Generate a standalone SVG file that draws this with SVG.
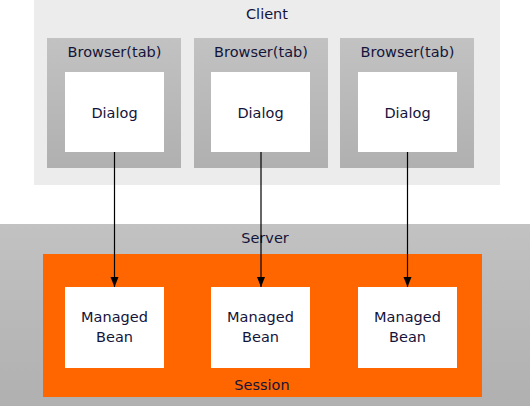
<svg xmlns="http://www.w3.org/2000/svg" width="530" height="406" viewBox="0 0 530 406">
<defs>
<linearGradient id="g" x1="0" y1="0" x2="0" y2="1"><stop offset="0" stop-color="#c2c2c2"/><stop offset="1" stop-color="#b0b0b0"/></linearGradient>
<marker id="arr" markerWidth="10" markerHeight="12" refX="10" refY="4" orient="auto" markerUnits="userSpaceOnUse"><path d="M0,0 L10,4 L0,8 z" fill="#000"/></marker>
</defs>
<style>
text{font-family:"DejaVu Sans",Verdana,sans-serif;font-size:14.5px;fill:#14143a;text-anchor:middle}
.w{fill:#fff}
.c{stroke:#000;stroke-width:1.2;fill:none;marker-end:url(#arr)}
</style>
<rect width="530" height="406" fill="#fff"/>
<g id="client"><rect x="34" y="0" width="466" height="185" fill="#ececec"/><text x="267" y="19">Client</text></g>
<g id="browser1"><rect x="47" y="38" width="134" height="130" fill="url(#g)"/><text x="114.5" y="57">Browser(tab)</text></g>
<g id="browser2"><rect x="194" y="38" width="134" height="130" fill="url(#g)"/><text x="261" y="57">Browser(tab)</text></g>
<g id="browser3"><rect x="340" y="38" width="134" height="130" fill="url(#g)"/><text x="407.5" y="57">Browser(tab)</text></g>
<g id="dialog1"><rect class="w" x="65" y="72" width="99" height="80"/><text x="114.5" y="118">Dialog</text></g>
<g id="dialog2"><rect class="w" x="211" y="72" width="99" height="80"/><text x="260.5" y="118">Dialog</text></g>
<g id="dialog3"><rect class="w" x="358" y="72" width="99" height="80"/><text x="407.5" y="118">Dialog</text></g>
<g id="server"><rect x="0" y="224" width="530" height="182" fill="url(#g)"/><text x="265" y="243">Server</text></g>
<g id="session"><rect x="43" y="254" width="439" height="143" fill="#ff6600"/><text x="262" y="390">Session</text></g>
<g id="bean1"><rect class="w" x="65" y="287" width="99" height="81"/><text x="114.5" y="322">Managed</text><text x="114.5" y="342">Bean</text></g>
<g id="bean2"><rect class="w" x="211" y="287" width="99" height="81"/><text x="260.5" y="322">Managed</text><text x="260.5" y="342">Bean</text></g>
<g id="bean3"><rect class="w" x="358" y="287" width="99" height="81"/><text x="407.5" y="322">Managed</text><text x="407.5" y="342">Bean</text></g>
<g id="connectors">
<line class="c" x1="114.5" y1="152" x2="114.5" y2="287"/>
<line class="c" x1="261" y1="152" x2="261" y2="287"/>
<line class="c" x1="407.5" y1="152" x2="407.5" y2="287"/>
</g>
</svg>
